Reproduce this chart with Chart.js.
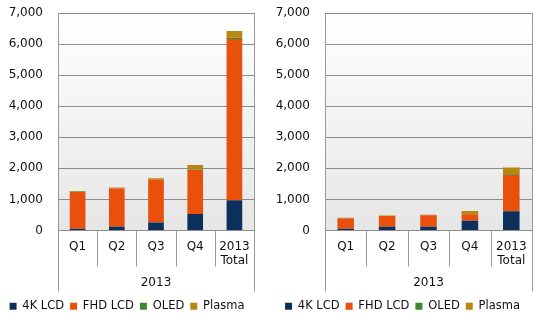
<!DOCTYPE html>
<html>
<head>
    <meta charset="UTF-8">
    <title>TV shipments 2013</title>
    <script src="https://cdn.jsdelivr.net/npm/chart.js"></script>
    <style>
        body {
            margin: 0;
            padding: 0;
            background-color: #FFFFFF;
            font-family: 'DejaVu Sans', Verdana, sans-serif;
        }
        .wrap {
            position: relative;
            width: 546px;
            height: 326px;
        }
        .box {
            position: absolute;
            top: 0;
            width: 273px;
            height: 326px;
        }
    </style>
</head>
<body>
<div class="wrap">
    <div class="box" style="left:0"><canvas id="left-chart"></canvas></div>
    <div class="box" style="left:273px"><canvas id="right-chart"></canvas></div>
</div>

<script>
    // categorias e valores
    const categories = ['Q1', 'Q2', 'Q3', 'Q4', ['2013', 'Total']];
    const seriesNames = ['4K LCD', 'FHD LCD', 'OLED', 'Plasma'];
    const yTicks = [0, 1000, 2000, 3000, 4000, 5000, 6000, 7000];

    const left4k = [60, 120, 260, 530, 970];
    const leftFhd = [1180, 1230, 1370, 1420, 5190];
    const leftOled = [5, 5, 5, 10, 40];
    const leftPlasma = [30, 30, 50, 150, 220];

    const right4k = [60, 120, 120, 310, 620];
    const rightFhd = [330, 345, 370, 210, 1170];
    const rightOled = [5, 5, 5, 10, 20];
    const rightPlasma = [15, 15, 15, 95, 220];

    const colors = ['#0c2f5c', '#e8500c', '#3c8a2e', '#b8870f'];

    Chart.defaults.font.family = "'DejaVu Sans', Verdana, sans-serif";
    Chart.defaults.font.size = 12;
    Chart.defaults.color = '#111111';

    // fundo em degradê e linhas separadoras das categorias
    const framePlugin = {
        id: 'frame',
        beforeDraw(chart) {
            const a = chart.chartArea;
            const ctx = chart.ctx;
            const g = ctx.createLinearGradient(0, a.top, 0, a.bottom);
            g.addColorStop(0, '#ffffff');
            g.addColorStop(1, '#e6e6e6');
            ctx.save();
            ctx.fillStyle = g;
            ctx.fillRect(a.left, a.top, a.right - a.left, a.bottom - a.top);
            ctx.restore();
        },
        afterDraw(chart) {
            const a = chart.chartArea;
            const ctx = chart.ctx;
            const w = (a.right - a.left) / categories.length;
            ctx.save();
            ctx.strokeStyle = '#9a9a9a';
            ctx.lineWidth = 1;
            for (let i = 0; i <= categories.length; i++) {
                const x = Math.round(a.left + i * w) + 0.5;
                const outer = (i === 0 || i === categories.length);
                ctx.beginPath();
                ctx.moveTo(x, a.bottom);
                ctx.lineTo(x, outer ? a.bottom + 61 : a.bottom + 36);
                ctx.stroke();
            }
            ctx.beginPath();
            ctx.moveTo(Math.round(a.right) + 0.5, a.top);
            ctx.lineTo(Math.round(a.right) + 0.5, a.bottom);
            ctx.stroke();
            ctx.restore();
        }
    };

    function createChart(canvasId, data, axisWidth, padRight) {
        const ctx = document.getElementById(canvasId).getContext('2d');
        return new Chart(ctx, {
            type: 'bar',
            data: {
                labels: categories,
                datasets: seriesNames.map((name, i) => ({
                    label: name,
                    data: data[i],
                    backgroundColor: colors[i],
                    borderWidth: 0,
                    barPercentage: 0.8,
                    categoryPercentage: 0.5
                }))
            },
            options: {
                responsive: true,
                maintainAspectRatio: false,
                animation: false,
                layout: {
                    padding: { top: 13, right: padRight, left: 0, bottom: 4 }
                },
                plugins: {
                    tooltip: { enabled: false },
                    legend: {
                        position: 'bottom',
                        labels: {
                            boxWidth: 7,
                            boxHeight: 7,
                            padding: 6,
                            color: '#111111',
                            font: { size: 11.5 }
                        }
                    }
                },
                scales: {
                    x: {
                        stacked: true,
                        grid: { display: false, drawTicks: false },
                        border: { color: '#8c8c8c' },
                        ticks: { padding: 9, color: '#111111' },
                        title: {
                            display: true,
                            text: '2013',
                            color: '#111111',
                            padding: { top: 0, bottom: 4 }
                        },
                        afterFit(scale) { scale.height = 64; }
                    },
                    y: {
                        stacked: true,
                        min: 0,
                        max: 7000,
                        afterBuildTicks(scale) {
                            scale.ticks = yTicks.map(v => ({ value: v }));
                        },
                        grid: { color: '#8c8c8c', drawTicks: false },
                        border: { color: '#9a9a9a' },
                        ticks: {
                            padding: 15,
                            color: '#111111',
                            callback: v => v.toLocaleString('en-US')
                        },
                        afterFit(scale) {
                            scale.width = axisWidth;
                            scale.paddingTop = 0;
                            scale.paddingBottom = 0;
                        }
                    }
                }
            },
            plugins: [framePlugin]
        });
    }

    createChart('left-chart', [left4k, leftFhd, leftOled, leftPlasma], 58, 19);
    createChart('right-chart', [right4k, rightFhd, rightOled, rightPlasma], 52, 14);
</script>
</body>
</html>
